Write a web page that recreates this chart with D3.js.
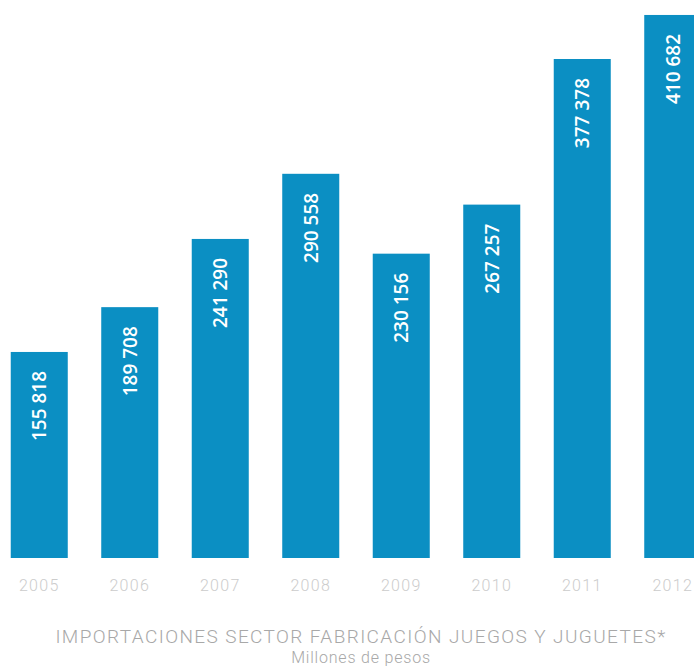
<!DOCTYPE html>
<html>
<head>
<meta charset="utf-8">
<script src="https://cdn.jsdelivr.net/npm/d3@7"></script>
<style>
  body { margin: 0; background: #fff; }
</style>
</head>
<body>
<div id="chart"></div>
<script>
const years = ['2005', '2006', '2007', '2008', '2009', '2010', '2011', '2012'];
const imports = [155818, 189708, 241290, 290558, 230156, 267257, 377378, 410682];
const valueLabels = ['155 818', '189 708', '241 290', '290 558', '230 156', '267 257', '377 378', '410 682'];

const width = 694;
const height = 667;

const svg = d3.select('#chart')
  .append('svg')
  .attr('width', width)
  .attr('height', height);

const x = d3.scaleBand()
  .domain(years)
  .range([-6, 718])
  .paddingInner(0.37)
  .paddingOuter(0.185);

const y = d3.scaleLinear()
  .domain([0, 422000])
  .range([558, 0]);

// bars
svg.selectAll('rect.bar')
  .data(years)
  .join('rect')
  .attr('class', 'bar')
  .attr('x', d => x(d))
  .attr('y', (d, i) => y(imports[i]))
  .attr('width', x.bandwidth())
  .attr('height', (d, i) => y(0) - y(imports[i]))
  .attr('fill', '#0b8fc3');

// values inside bars, rotated
svg.selectAll('text.val')
  .data(years)
  .join('text')
  .attr('class', 'val')
  .attr('transform', (d, i) => `translate(${x(d) + x.bandwidth() / 2 + 7}, ${y(imports[i]) + 19}) rotate(-90)`)
  .attr('text-anchor', 'end')
  .style('font-family', '"Open Sans", sans-serif')
  .style('font-weight', 600)
  .style('font-size', '19px')
  .style('fill', 'white')
  .text((d, i) => valueLabels[i]);

// year axis
const xAxis = svg.append('g')
  .attr('transform', `translate(0, ${y(0)})`)
  .call(d3.axisBottom(x).tickSize(0).tickPadding(22));
xAxis.select('.domain').remove();
xAxis.selectAll('text')
  .style('font-family', 'Roboto, sans-serif')
  .style('font-weight', 300)
  .style('font-size', '16px')
  .style('letter-spacing', '1.3px')
  .style('fill', '#cccccc');

// caption
svg.append('text')
  .attr('x', 361)
  .attr('y', 643)
  .attr('text-anchor', 'middle')
  .style('font-family', 'Roboto, sans-serif')
  .style('font-weight', 300)
  .style('font-size', '19px')
  .style('letter-spacing', '1.4px')
  .style('fill', '#a8a8a8')
  .text('IMPORTACIONES SECTOR FABRICACIÓN JUEGOS Y JUGUETES*');

svg.append('text')
  .attr('x', 361)
  .attr('y', 663)
  .attr('text-anchor', 'middle')
  .style('font-family', 'Roboto, sans-serif')
  .style('font-weight', 300)
  .style('font-size', '16px')
  .style('letter-spacing', '0.8px')
  .style('fill', '#a8a8a8')
  .text('Millones de pesos');
</script>
</body>
</html>
